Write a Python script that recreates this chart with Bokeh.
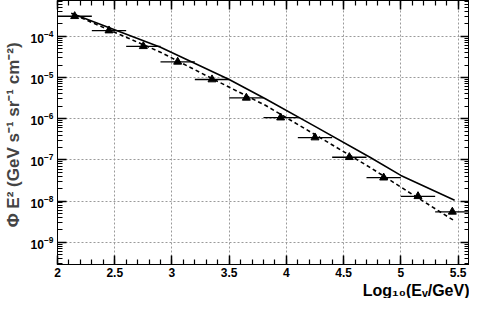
from bokeh.plotting import figure
from bokeh.models import (LogAxis, LinearAxis, SingleIntervalTicker, LogTicker,
                          Title, Range1d, ColumnDataSource, CustomJSTickFormatter)
from bokeh.embed import file_html
from bokeh.resources import INLINE

# ---- data ----
bin_centers = [2.15, 2.45, 2.75, 3.05, 3.35, 3.65, 3.95, 4.25, 4.55, 4.85, 5.15, 5.45]
bin_half_width = [0.15, 0.15, 0.15, 0.15, 0.15, 0.15, 0.15, 0.15, 0.15, 0.15, 0.15, 0.15]
flux = [3.05e-4, 1.37e-4, 5.7e-5, 2.39e-5, 8.9e-6, 3.2e-6, 1.06e-6, 3.48e-7,
        1.16e-7, 3.7e-8, 1.31e-8, 5.5e-9]

solid_x = [2.12, 2.9, 3.5, 3.82, 4.25, 4.73, 5.0, 5.47]
solid_y = [3.6e-4, 5.4e-5, 8.9e-6, 3.0e-6, 6.5e-7, 1.16e-7, 4.2e-8, 1.05e-8]

dashed_x = [2.15, 2.9, 3.35, 3.82, 4.25, 4.73, 5.1, 5.47]
dashed_y = [3.27e-4, 4.1e-5, 9.4e-6, 2.08e-6, 4.1e-7, 6.6e-8, 1.46e-8, 3.3e-9]

x_range = (2.0, 5.6)
y_range = (2.9e-10, 7.35e-4)

FONT = "Liberation Sans"

p = figure(width=469, height=298, output_backend="svg", toolbar_location=None,
           y_axis_type="log",
           x_range=Range1d(*x_range), y_range=Range1d(*y_range),
           min_border_left=53, min_border_right=0, min_border_top=0, min_border_bottom=0)
p.background_fill_color = "white"
p.border_fill_color = "white"
p.outline_line_color = "black"
p.outline_line_width = 1

blank = CustomJSTickFormatter(code="return ''")

def style_axis(ax, show_labels):
    ax.axis_line_color = "black"
    ax.axis_line_width = 1
    ax.major_tick_in = 9
    ax.major_tick_out = 0
    ax.minor_tick_in = 5
    ax.minor_tick_out = 0
    ax.major_tick_line_color = "black"
    ax.minor_tick_line_color = "black"
    ax.major_tick_line_width = 1.5
    ax.minor_tick_line_width = 1.2
    if show_labels:
        ax.major_label_text_font = FONT
        ax.major_label_text_font_style = "bold"
        ax.major_label_text_font_size = "12px"
        ax.major_label_text_color = "black"
    else:
        ax.formatter = blank
        ax.major_label_text_font_size = "1px"
        ax.major_label_standoff = 0
        ax.axis_label_standoff = 0

xt = SingleIntervalTicker(interval=0.5, num_minor_ticks=5)
p.xaxis.ticker = xt
p.xgrid.ticker = xt
style_axis(p.xaxis[0], True)
p.xaxis.major_label_standoff = 3
p.xaxis.axis_label_standoff = 0

yt = LogTicker(num_minor_ticks=10)
p.yaxis.ticker = yt
style_axis(p.yaxis[0], True)
p.yaxis.major_label_standoff = 4
p.yaxis.axis_label = "\u03a6  E\u00b2 (GeV s\u207b\u00b9 sr\u207b\u00b9 cm\u207b\u00b2)"
p.yaxis.axis_label_text_font = FONT
p.yaxis.axis_label_text_font_style = "bold"
p.yaxis.axis_label_text_font_size = "17px"
p.yaxis.axis_label_standoff = 5

top_ax = LinearAxis(ticker=xt)
style_axis(top_ax, False)
p.add_layout(top_ax, "above")
right_ax = LogAxis(ticker=LogTicker(num_minor_ticks=10))
style_axis(right_ax, False)
p.add_layout(right_ax, "right")

for g in (p.xgrid[0], p.ygrid[0]):
    g.grid_line_color = "#9a9a9a"
    g.grid_line_dash = "2 2"
    g.grid_line_width = 1

# model curves
p.line(solid_x, solid_y, line_color="black", line_width=1.6)
p.line(dashed_x, dashed_y, line_color="black", line_width=1.6, line_dash="4 3")

# data points with horizontal error bars
src = ColumnDataSource(dict(
    x=bin_centers,
    x0=[c - w for c, w in zip(bin_centers, bin_half_width)],
    x1=[c + w for c, w in zip(bin_centers, bin_half_width)],
    y=flux,
))
p.segment(x0="x0", x1="x1", y0="y", y1="y", source=src, line_color="black", line_width=1.3)
p.scatter(x="x", y="y", source=src, marker="triangle", size=8,
          fill_color="black", line_color="black")

# x-axis title, right aligned under the axis
p.add_layout(Title(text="Log\u2081\u2080(E\u1d65/GeV)", align="right",
                   text_font=FONT, text_font_style="bold", text_font_size="16px",
                   text_color="black", standoff=0, offset=0), "below")

open("out.html", "w").write(file_html(p, INLINE))
